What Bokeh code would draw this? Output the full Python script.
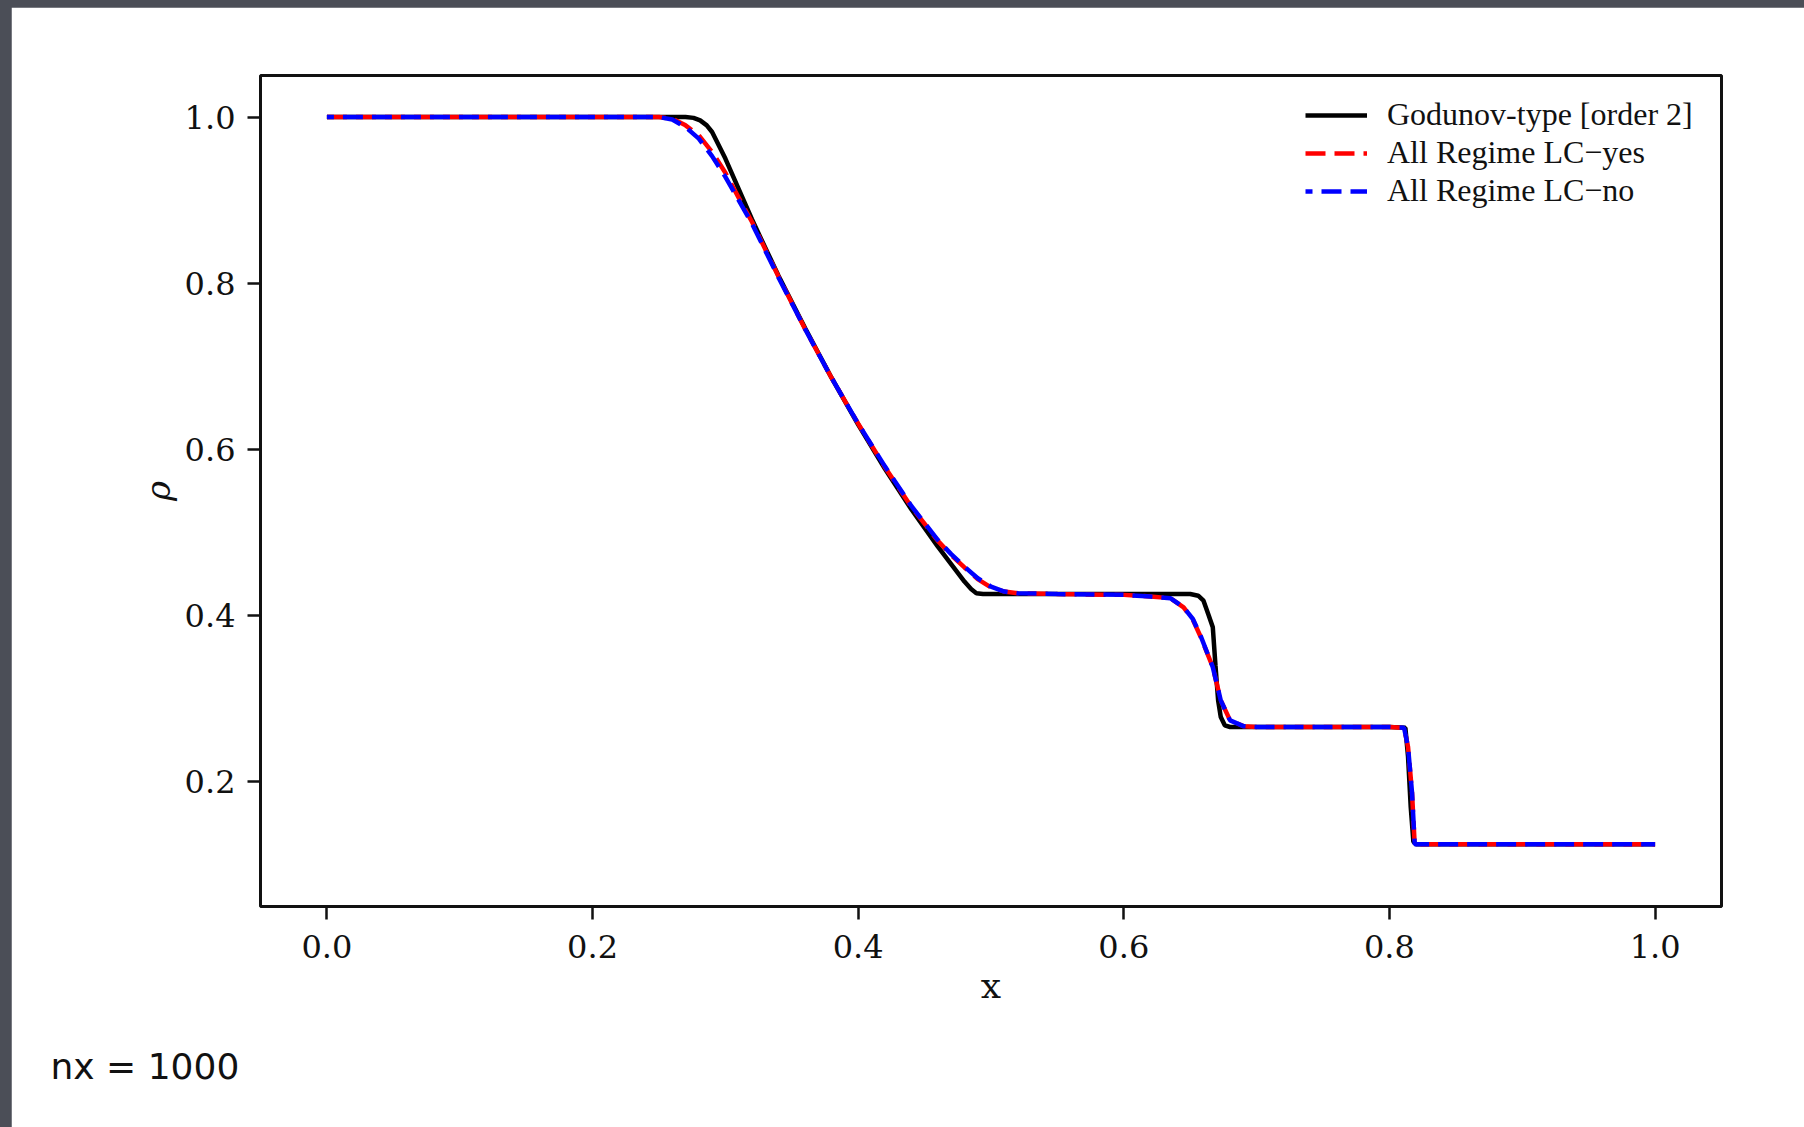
from bokeh.plotting import figure
from bokeh.models import Range1d, Legend, LegendItem, Title, FixedTicker, NumeralTickFormatter
from bokeh.layouts import column
from bokeh.embed import file_html
from bokeh.resources import INLINE

# ---- data (Sod shock tube, density) ----
god_x = [0.0, 0.27, 0.276, 0.281, 0.286, 0.29, 0.30, 0.32, 0.34, 0.36, 0.38, 0.40,
         0.42, 0.44, 0.46, 0.48, 0.485, 0.489, 0.494, 0.50, 0.60, 0.65, 0.656,
         0.660, 0.664, 0.667, 0.669, 0.671, 0.673, 0.676, 0.68, 0.70, 0.80,
         0.812, 0.814, 0.816, 0.818, 0.82, 0.90, 1.0]
god_rho = [1.0, 1.0, 0.999, 0.996, 0.99, 0.982, 0.950, 0.877, 0.809, 0.746, 0.686, 0.630,
           0.577, 0.528, 0.483, 0.441, 0.432, 0.427, 0.426, 0.426, 0.426, 0.426, 0.424,
           0.418, 0.400, 0.386, 0.340, 0.298, 0.278, 0.268, 0.266, 0.266, 0.266,
           0.265, 0.230, 0.170, 0.128, 0.125, 0.125, 0.125]

lcyes_x = [0.0, 0.25, 0.26, 0.27, 0.28, 0.29, 0.30, 0.31, 0.32, 0.34, 0.36, 0.38, 0.40,
           0.42, 0.44, 0.46, 0.47, 0.48, 0.49, 0.50, 0.51, 0.52, 0.55, 0.60, 0.62,
           0.635, 0.645, 0.652, 0.658, 0.667, 0.673, 0.68, 0.69, 0.70, 0.80,
           0.811, 0.814, 0.817, 0.819, 0.90, 1.0]
lcyes_rho = [1.0, 1.0, 0.998, 0.990, 0.978, 0.958, 0.933, 0.903, 0.874, 0.808, 0.745, 0.686, 0.631,
             0.579, 0.531, 0.490, 0.473, 0.458, 0.444, 0.434, 0.429, 0.427, 0.426, 0.425, 0.423,
             0.421, 0.410, 0.395, 0.374, 0.338, 0.298, 0.274, 0.267, 0.266, 0.266,
             0.265, 0.242, 0.187, 0.125, 0.125, 0.125]

lcno_x = [0.0, 0.25, 0.26, 0.27, 0.28, 0.29, 0.30, 0.31, 0.32, 0.34, 0.36, 0.38, 0.40,
          0.42, 0.44, 0.46, 0.47, 0.48, 0.49, 0.50, 0.51, 0.52, 0.55, 0.60, 0.62,
          0.635, 0.645, 0.652, 0.658, 0.667, 0.673, 0.68, 0.69, 0.70, 0.80,
          0.811, 0.814, 0.817, 0.819, 0.90, 1.0]
lcno_rho = [1.0, 1.0, 0.997, 0.988, 0.974, 0.953, 0.928, 0.900, 0.872, 0.807, 0.745, 0.686, 0.631,
            0.580, 0.532, 0.491, 0.474, 0.459, 0.445, 0.435, 0.429, 0.427, 0.426, 0.425, 0.423,
            0.421, 0.410, 0.396, 0.375, 0.338, 0.298, 0.274, 0.267, 0.266, 0.266,
            0.265, 0.242, 0.187, 0.125, 0.125, 0.125]

x_ticks = [0.0, 0.2, 0.4, 0.6, 0.8, 1.0]
y_ticks = [0.2, 0.4, 0.6, 0.8, 1.0]
labels = ["Godunov-type [order 2]", "All Regime LC\u2212yes", "All Regime LC\u2212no"]
annotation = "nx = 1000"

SERIF = "DejaVu Serif"

p = figure(width=1793, height=1120, output_backend="svg", toolbar_location=None,
           x_range=Range1d(-0.05, 1.05), y_range=Range1d(0.05, 1.05),
           min_border_left=249, min_border_right=83, min_border_top=68, min_border_bottom=221,
           background_fill_color="white", border_fill_color="white")
p.margin = (7, 0, 0, 11)

p.grid.visible = False
p.outline_line_color = "#111111"
p.outline_line_width = 3

for ax in (p.xaxis[0], p.yaxis[0]):
    ax.axis_line_color = None
    ax.major_tick_line_color = "#111111"
    ax.major_tick_line_width = 2.5
    ax.major_tick_out = 13
    ax.major_tick_in = 0
    ax.minor_tick_line_color = None
    ax.major_label_text_font = SERIF
    ax.major_label_text_font_size = "32px"
    ax.major_label_text_color = "#111111"
    ax.axis_label_text_font = SERIF
    ax.axis_label_text_color = "#111111"
    ax.axis_label_text_font_style = "normal"
    ax.formatter = NumeralTickFormatter(format="0.0")

p.xaxis.ticker = FixedTicker(ticks=x_ticks)
p.yaxis.ticker = FixedTicker(ticks=y_ticks)
p.xaxis.major_label_standoff = 15
p.yaxis.major_label_standoff = 12
p.xaxis.axis_label = "x"
p.xaxis.axis_label_text_font_size = "36px"
p.xaxis.axis_label_standoff = 4
p.yaxis.axis_label = "\u03c1"
p.yaxis.axis_label_text_font_size = "34px"
p.yaxis.axis_label_text_font_style = "italic"
p.yaxis.axis_label_standoff = 4

r_god = p.line(god_x, god_rho, line_color="black", line_width=4.5)
r_yes = p.line(lcyes_x, lcyes_rho, line_color="#ff0000", line_width=4.5, line_dash="20 9")
r_no = p.line(lcno_x, lcno_rho, line_color="#0000ff", line_width=4.5, line_dash="20 9",
              line_dash_offset=13)

legend = Legend(items=[LegendItem(label=labels[0], renderers=[r_god]),
                       LegendItem(label=labels[1], renderers=[r_yes]),
                       LegendItem(label=labels[2], renderers=[r_no])],
                location=(1045, 697), margin=0, padding=10, spacing=1,
                glyph_width=62, glyph_height=30, label_height=30, label_standoff=20,
                label_text_font="Liberation Serif", label_text_font_size="32px",
                label_text_color="#111111",
                border_line_color=None, background_fill_alpha=0)
p.add_layout(legend)

p.add_layout(Title(text=annotation, align="left", offset=-210, standoff=71,
                   text_font="DejaVu Sans", text_font_size="36px", text_color="#111111",
                   text_font_style="normal"), "below")

page = column(p, width=1804, height=1127,
              styles={"background-color": "#4b4e57", "overflow": "hidden"})
open("out.html", "w").write(file_html(page, INLINE))
